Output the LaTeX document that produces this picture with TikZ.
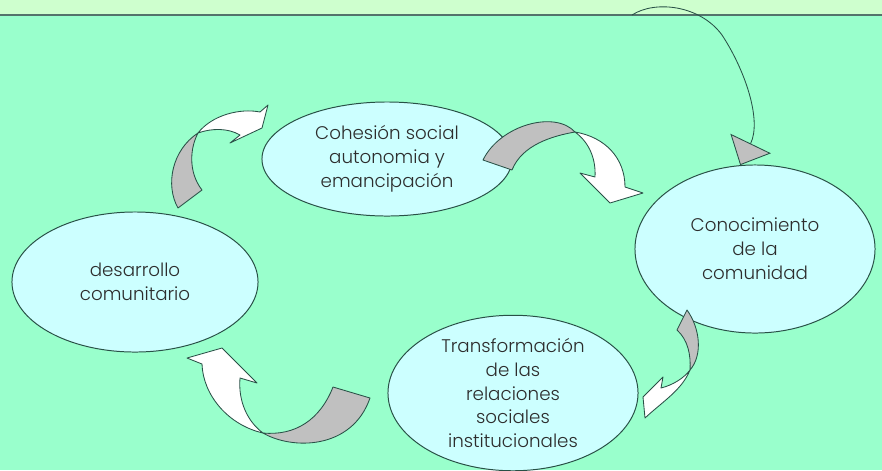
\documentclass[tikz,border=0pt]{standalone}
\usepackage{fontspec}
\setmainfont{Poppins}[UprightFont=* Light]
\definecolor{mintbg}{RGB}{153, 255, 204}
\definecolor{stripgreen}{RGB}{206, 255, 206}
\definecolor{bubblefill}{RGB}{204, 255, 255}
\definecolor{edgedark}{RGB}{40, 80, 70}
\definecolor{ribbongrey}{RGB}{192, 192, 192}
\definecolor{textgrey}{RGB}{45, 45, 45}
\usetikzlibrary{shapes.geometric, arrows.meta, positioning}

\begin{document}
\begin{tikzpicture}[x=0.025cm, y=-0.025cm,
  bubble/.style={ellipse, draw=edgedark, fill=bubblefill, line width=0.7pt, inner sep=0pt,
    align=center, text=textgrey, font=\fontsize{13}{17}\selectfont},
  frontband/.style={draw=edgedark, fill=white, line width=0.6pt, line join=round},
  backband/.style={draw=edgedark, fill=ribbongrey, line width=0.6pt, line join=round}]
  \useasboundingbox (0,0) rectangle (882,470);

  % Background and header strip
  \fill[mintbg] (0,0) rectangle (882,470);
  \fill[stripgreen] (0,0) rectangle (882,15);
  \draw[edgedark!80, line width=1.2pt] (0,15) -- (882,15);

  % The four stages
  \node[bubble, minimum width=6.25cm, minimum height=2.85cm] (cohesion) at (387,159)
    {Cohesión social\\autonomia y\\emancipación};
  \node[bubble, minimum width=6cm, minimum height=4.2cm] (conoc) at (755,249)
    {Conocimiento\\de la\\comunidad};
  \node[bubble, minimum width=6.15cm, minimum height=3.5cm] (desarrollo) at (135,282)
    {desarrollo\\comunitario};
  \node[bubble, minimum width=6.25cm, minimum height=3.85cm] (transf) at (513,393)
    {Transformación\\de las\\relaciones\\sociales\\institucionales};

  % Entry curve from the header
  \coordinate (loopstart) at (632,15);
  \draw[edgedark, line width=0.6pt, -{Triangle[width=1.12cm, length=0.6cm, fill=ribbongrey]}]
    (loopstart) .. controls (655,0) and (700,5) .. (722,35)
    .. controls (745,70) and (762,120) .. (conoc.100);

  % Ribbon: desarrollo -> cohesion
  \draw[backband] (178,208) .. controls (165,185) and (172,150) .. (198,133)
    .. controls (190,148) and (188,172) .. (202,190) -- cycle;
  \draw[frontband] (198,133) .. controls (212,115) and (240,108) .. (260,112) -- (268,105)
    -- (262,128) -- (230,143) -- (240,135) .. controls (228,128) and (212,128) .. (198,133) -- cycle;

  % Ribbon: cohesion -> conoc
  \draw[backband] (483,160) .. controls (500,125) and (555,110) .. (575,132)
    .. controls (552,136) and (522,145) .. (512,170) -- cycle;
  \draw[frontband] (575,132) .. controls (605,137) and (625,158) .. (625,187) -- (643,193)
    -- (610,203) -- (580,173) -- (595,177) .. controls (596,160) and (590,143) .. (575,132) -- cycle;

  % Ribbon: conoc -> transf
  \draw[backband] (687,310) .. controls (700,328) and (703,355) .. (690,370)
    .. controls (691,355) and (688,340) .. (677,330) -- cycle;
  \draw[frontband] (690,370) .. controls (682,390) and (662,402) .. (645,418) -- (643,397)
    -- (663,377) -- (661,388) .. controls (673,385) and (684,378) .. (690,370) -- cycle;

  % Ribbon: transf -> desarrollo
  \draw[backband] (333,387) .. controls (320,420) and (295,436) .. (263,433)
    .. controls (292,450) and (352,450) .. (370,398) -- cycle;
  \draw[frontband] (263,433) .. controls (228,425) and (203,395) .. (202,364) -- (187,358)
    -- (222,348) -- (257,383) -- (240,378) .. controls (238,402) and (248,422) .. (263,433) -- cycle;
\end{tikzpicture}
\end{document}
